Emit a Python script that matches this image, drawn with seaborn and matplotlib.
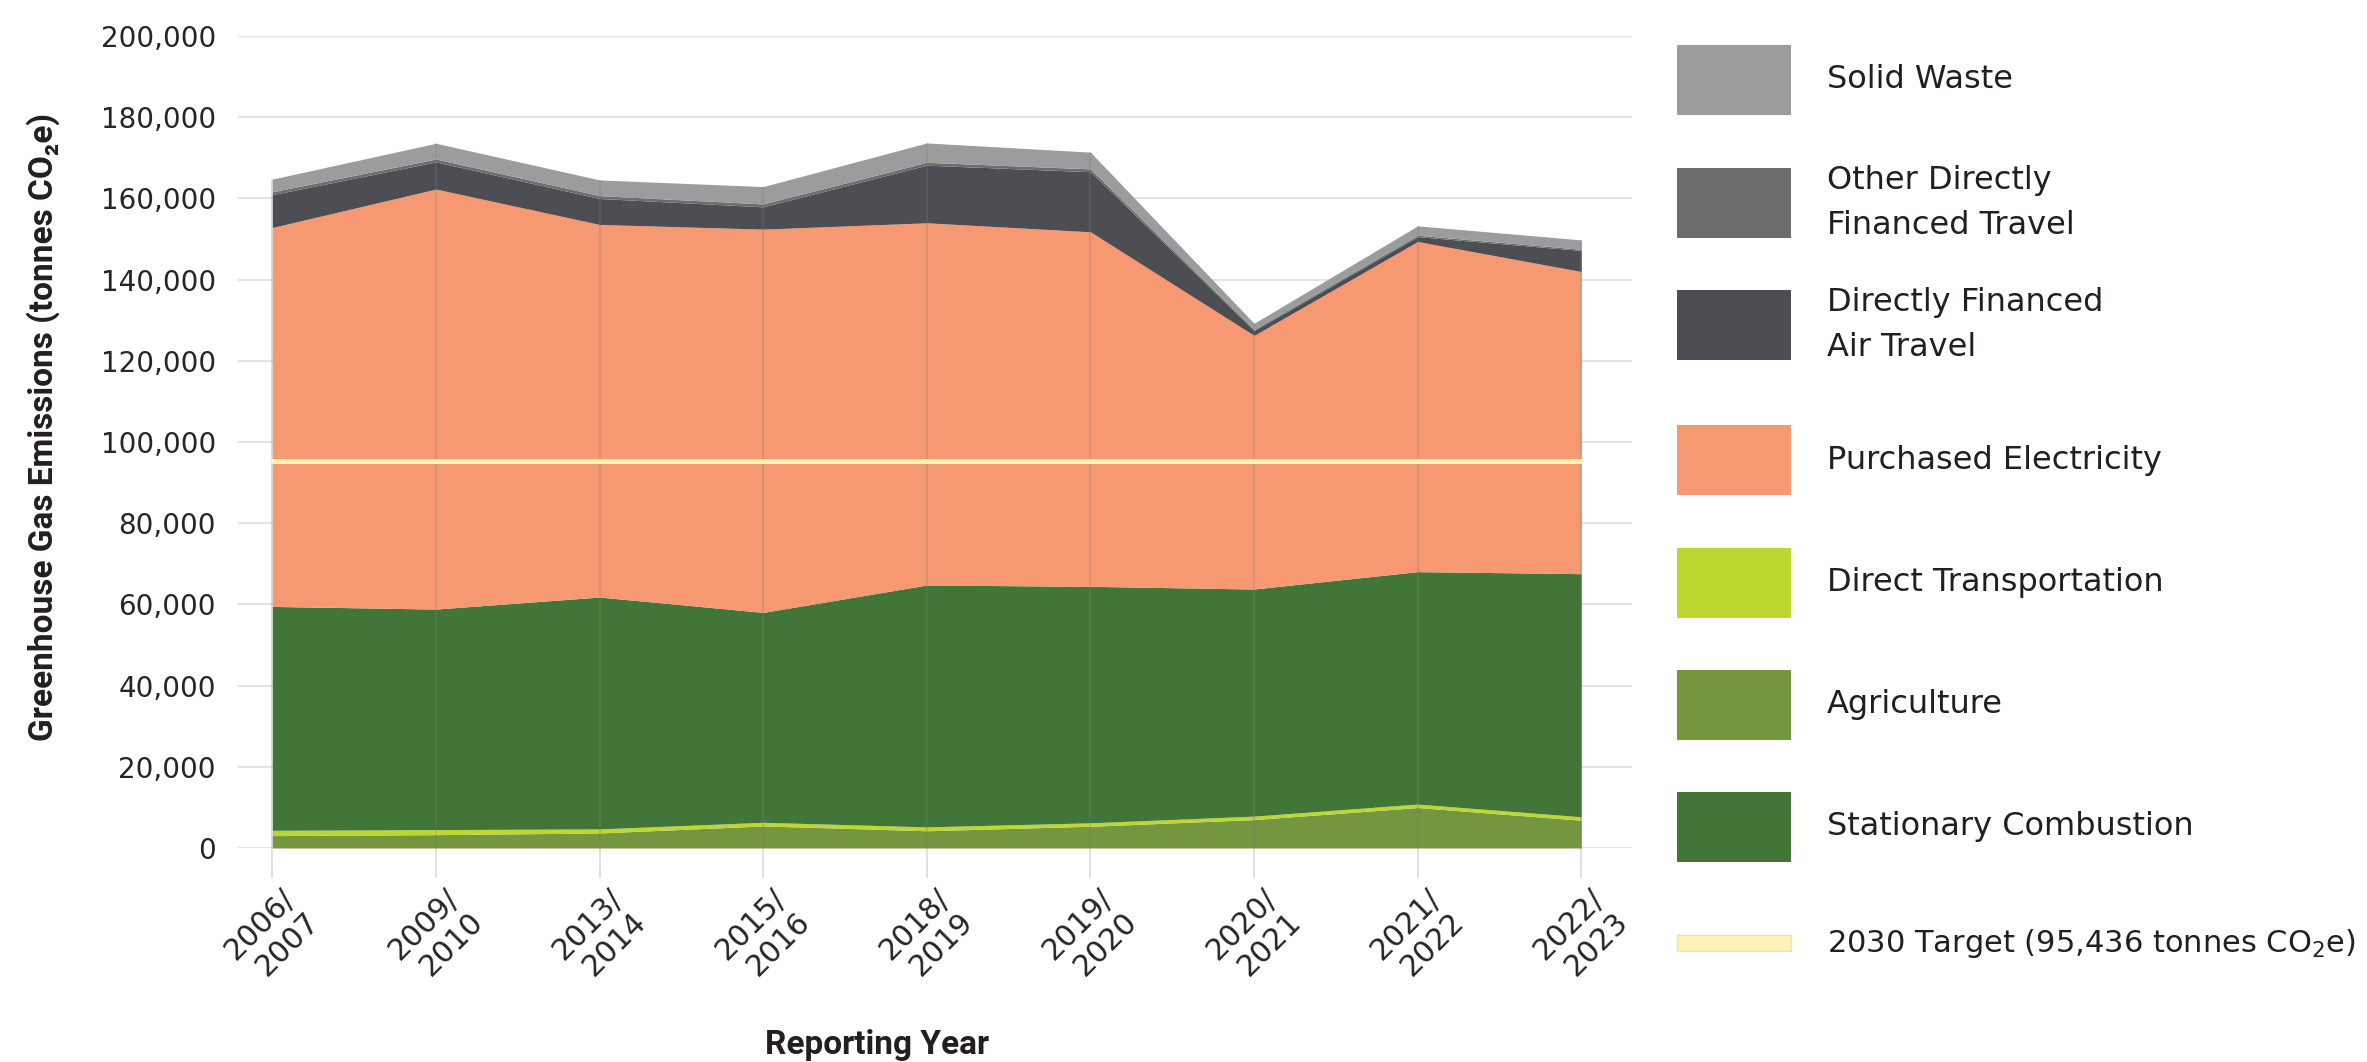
import numpy as np
import matplotlib
matplotlib.use('agg')
import matplotlib.pyplot as plt
from matplotlib.patches import Rectangle
from matplotlib.ticker import FuncFormatter
import seaborn as sns

# reporting years (x axis)
years = ['2006/\n2007', '2009/\n2010', '2013/\n2014', '2015/\n2016', '2018/\n2019',
         '2019/\n2020', '2020/\n2021', '2021/\n2022', '2022/\n2023']

# emissions by source, tonnes CO2e
agriculture = [3050, 3290, 3700, 5430, 4250, 5350, 7000, 9970, 6840]
direct_transportation = [1300, 1250, 1000, 900, 950, 850, 850, 850, 850]
stationary_combustion = [55150, 54310, 57110, 51700, 59580, 58250, 55940, 57250, 59880]
purchased_electricity = [93330, 103450, 91770, 94400, 89210, 87320, 62470, 81310, 74410]
air_travel = [8100, 6700, 6400, 5500, 14200, 14800, 1200, 1200, 5200]
other_travel = [700, 700, 700, 700, 700, 700, 300, 350, 300]
solid_waste = [3120, 3880, 3870, 4280, 4770, 4120, 1480, 2310, 2300]

target_2030 = 95436

# legend entries, top to bottom
legend_labels = ['Solid Waste', 'Other Directly\nFinanced Travel', 'Directly Financed\nAir Travel',
                 'Purchased Electricity', 'Direct Transportation', 'Agriculture',
                 'Stationary Combustion', '2030 Target (95,436 tonnes CO$_2$e)']

c_solid = '#9b9c9e'
c_other = '#6c6c6a'
c_air = '#4d4e53'
c_elec = '#f69871'
c_trans = '#bdd630'
c_agri = '#73963f'
c_stat = '#427638'
c_target = '#fcf3b4'

sns.set_theme(style='white')
plt.rcParams['font.family'] = ['DejaVu Sans']
plt.rcParams['text.color'] = '#231f20'

W, H = 2367, 1062
fig = plt.figure(figsize=(W / 100, H / 100), dpi=100)
ax = fig.add_axes([238 / W, 1 - 848 / H, (1632 - 238) / W, (848 - 36) / H])

x = np.arange(len(years))
ax.stackplot(x, agriculture, direct_transportation, stationary_combustion, purchased_electricity,
             air_travel, other_travel, solid_waste,
             colors=[c_agri, c_trans, c_stat, c_elec, c_air, c_other, c_solid],
             lw=0, zorder=2)

# drop lines from the top of each stack
totals = np.sum([agriculture, direct_transportation, stationary_combustion, purchased_electricity,
                 air_travel, other_travel, solid_waste], axis=0)
ax.vlines(x, 0, totals, color='#7a7a7a', alpha=0.3, lw=1.2, zorder=3)

# 2030 target line
sns.lineplot(x=x, y=[target_2030] * len(x), ax=ax, color=c_target, lw=3.6, zorder=4)

ax.set_xlim(-0.21, 8.31)
ax.set_ylim(0, 200000)
ax.set_yticks(np.arange(0, 200001, 20000))
ax.yaxis.set_major_formatter(FuncFormatter(lambda v, p: f'{int(v):,}'))
ax.yaxis.grid(True, color='#e3e3e3', lw=1.5, zorder=0)
ax.xaxis.grid(False)
ax.set_axisbelow(True)
sns.despine(ax=ax, left=True, bottom=True)

ax.set_xticks(x)
ax.set_xticklabels(years, rotation=45, ha='center', va='top', ma='right', fontsize=21.5)
ax.tick_params(axis='x', bottom=True, length=21.6, width=1.2, color='#dcdcdc', pad=4)
ax.tick_params(axis='y', left=False, length=0, pad=16, labelsize=20)
ax.set_xlabel('')
ax.set_ylabel('')

bold_font = ['Roboto', 'DejaVu Sans']
fig.text(43 / W, 1 - 427 / H, 'Greenhouse Gas Emissions (tonnes CO\u2082e)', rotation=90,
         ha='center', va='center', fontsize=24, fontweight='bold', family=bold_font)
fig.text(877 / W, 1 - 1045 / H, 'Reporting Year', ha='center', va='center',
         fontsize=24, fontweight='bold', family=bold_font)

# legend drawn in pixel space
lax = fig.add_axes([0, 0, 1, 1])
lax.set_xlim(0, W)
lax.set_ylim(H, 0)
lax.axis('off')
legend_colors = [c_solid, c_other, c_air, c_elec, c_trans, c_agri, c_stat, c_target]
legend_y = [80, 203, 325, 460, 583, 705, 827, 943]
for i, (lab, col) in enumerate(zip(legend_labels, legend_colors)):
    cy = legend_y[i]
    last = i == len(legend_labels) - 1
    h = 16 if last else 70
    lax.add_patch(Rectangle((1677, cy - h / 2), 114, h, facecolor=col,
                            edgecolor='#e6e3c0' if last else 'none', lw=1))
    lax.text(1827, cy, lab, va='center', ha='left', fontsize=22 if last else 23, linespacing=1.55)

fig.savefig('out.png', dpi=100, facecolor='white')
